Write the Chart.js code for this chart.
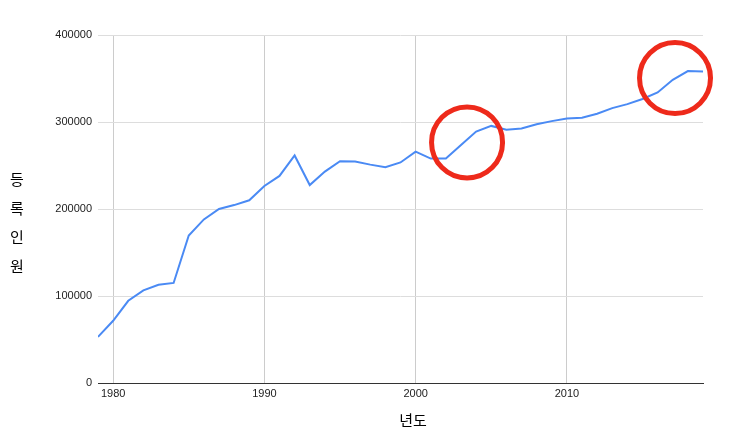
<!DOCTYPE html>
<html>
<head>
<meta charset="utf-8">
<script src="https://cdn.jsdelivr.net/npm/chart.js@4/dist/chart.umd.min.js"></script>
<style>
  body { margin: 0; background: #fff; }
  #wrap { width: 731px; height: 437px; position: relative; }
</style>
</head>
<body>
<div id="wrap"><canvas id="chart"></canvas></div>
<script>
// data
let years = [1979, 1980, 1981, 1982, 1983, 1984, 1985, 1986, 1987, 1988, 1989,
             1990, 1991, 1992, 1993, 1994, 1995, 1996, 1997, 1998, 1999,
             2000, 2001, 2002, 2003, 2004, 2005, 2006, 2007, 2008, 2009,
             2010, 2011, 2012, 2013, 2014, 2015, 2016, 2017, 2018, 2019]
let members = [53000, 71500, 94500, 106500, 113000, 115000, 169500, 188000, 200000, 204500, 210000,
               226500, 238000, 261500, 227500, 243000, 255000, 254500, 251000, 248000, 253500,
               266000, 258000, 258000, 273500, 289000, 295500, 291000, 292500, 297500, 301000,
               304000, 305000, 309500, 316000, 320500, 326500, 334000, 348500, 358500, 358000]
let xTicks = [1980, 1990, 2000, 2010]
let yTicks = [0, 100000, 200000, 300000, 400000]
let yTitle = ["등", "록", "인", "원"]
let xTitle = "년도"
// hand drawn red rings, center in data units
let rings = [{x: 2003.4, y: 276500}, {x: 2017.15, y: 350500}]

let ringplugin = {
    id: "rings",
    afterDatasetsDraw(chart) {
        let ctx = chart.ctx
        let xs = chart.scales.x
        let ys = chart.scales.y
        ctx.save()
        ctx.strokeStyle = "#ee2a1b"
        ctx.lineWidth = 5
        for (let r of rings) {
            ctx.beginPath()
            ctx.arc(xs.getPixelForValue(r.x), ys.getPixelForValue(r.y), 35.5, 0, Math.PI * 2)
            ctx.stroke()
        }
        ctx.restore()
    },
    afterDraw(chart) {
        // axis titles: the y one is stacked, the x one sits a bit right of center
        let ctx = chart.ctx
        ctx.save()
        ctx.fillStyle = "#000"
        ctx.font = "15px 'Noto Sans CJK KR'"
        ctx.textAlign = "center"
        ctx.textBaseline = "middle"
        for (let i = 0; i < yTitle.length; i++) {
            ctx.fillText(yTitle[i], 17, 179 + i * 29)
        }
        ctx.fillText(xTitle, 413, 420)
        ctx.restore()
    }
}

let ctx = document.getElementById("chart").getContext("2d")
let chart = new Chart(ctx, {
    type: "line",
    data: {
        datasets: [{
            data: years.map((y, i) => ({x: y, y: members[i]})),
            borderColor: "#4a8af4",
            borderWidth: 2,
            pointRadius: 0,
            tension: 0
        }]
    },
    options: {
        responsive: true,
        maintainAspectRatio: false,
        animation: false,
        layout: { padding: { top: 35, right: 28, left: 0, bottom: 0 } },
        plugins: { legend: { display: false }, tooltip: { enabled: false } },
        scales: {
            x: {
                type: "linear",
                min: 1979,
                max: 2019,
                afterBuildTicks: (s) => { s.ticks = xTicks.map(v => ({value: v})) },
                afterFit: (s) => { s.height = 54 },
                grid: { color: "#cccccc", drawTicks: false },
                border: { color: "#333333", width: 1 },
                ticks: {
                    padding: 4,
                    color: "#222",
                    font: { family: "'Liberation Sans', Arial", size: 11 },
                    callback: (v) => String(v),
                    maxRotation: 0
                }
            },
            y: {
                min: 0,
                max: 400000,
                afterBuildTicks: (s) => { s.ticks = yTicks.map(v => ({value: v})) },
                afterFit: (s) => { s.width = 98 },
                grid: { color: "#dddddd", drawTicks: false },
                border: { display: false },
                ticks: {
                    padding: 6,
                    color: "#222",
                    font: { family: "'Liberation Sans', Arial", size: 11 },
                    callback: (v) => String(v)
                }
            }
        }
    },
    plugins: [ringplugin]
})
</script>
</body>
</html>
